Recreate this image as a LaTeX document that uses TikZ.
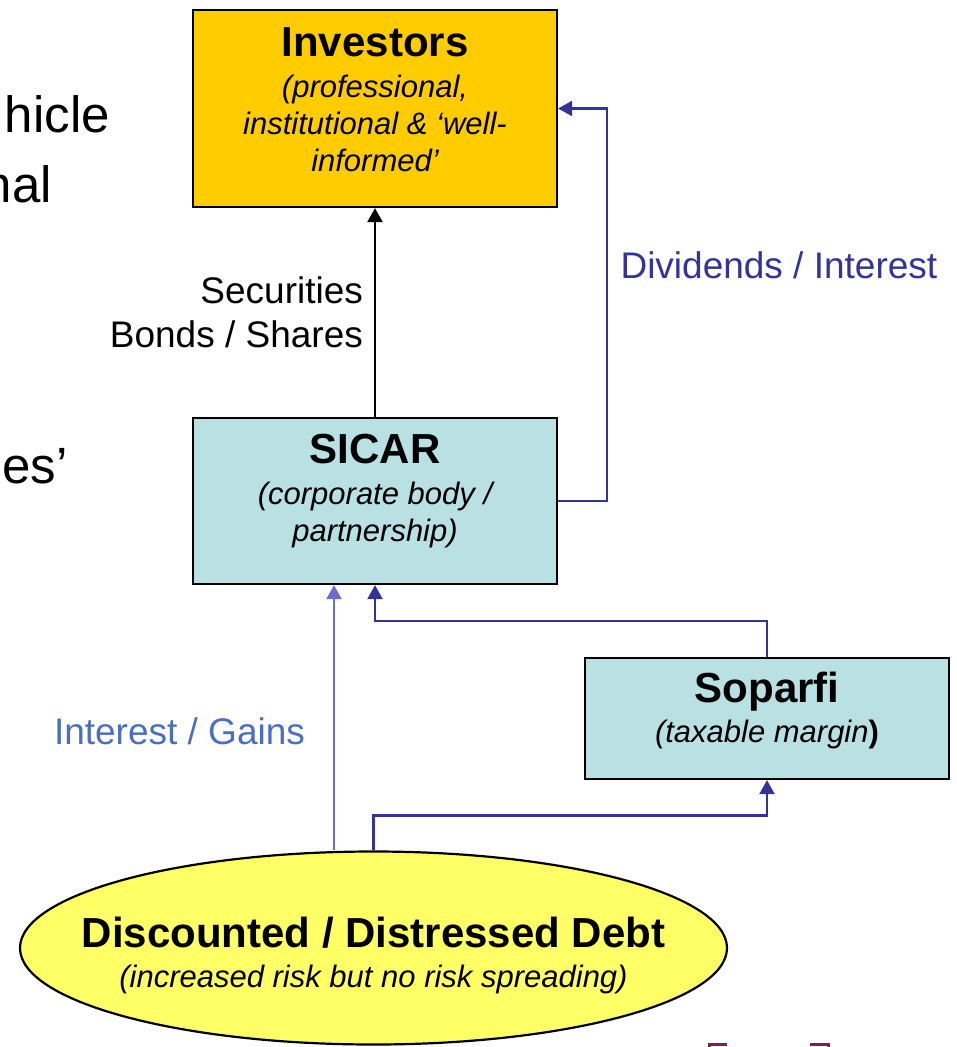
\documentclass[tikz,border=0pt]{standalone}
\usepackage{fontspec}
\setmainfont{Liberation Sans}
\usetikzlibrary{positioning,shapes.geometric,arrows.meta}

\definecolor{invgold}{HTML}{FFCC00}
\definecolor{boxcyan}{HTML}{B9E0E2}
\definecolor{debtyellow}{HTML}{FFFF66}
\definecolor{flowblue}{HTML}{333399}
\definecolor{gainblue}{HTML}{6B6BD0}
\definecolor{gaintext}{HTML}{4A6FC0}
\definecolor{bracketred}{HTML}{7F1F4F}

\newcommand{\hd}[1]{{\fontsize{42}{46}\selectfont\bfseries #1}}
\newcommand{\sbt}[1]{{\itshape #1}}

\tikzset{
  box/.style={draw=black, line width=2.2pt, minimum width=364pt},
  boxtext/.style={align=center, font=\fontsize{31}{37}\selectfont},
  flow/.style={line width=2.2pt, -{Triangle[length=14pt,width=15pt]}},
  lbl/.style={font=\fontsize{37}{44}\selectfont}
}

\begin{document}
\begin{tikzpicture}[x=1pt,y=-1pt]
\useasboundingbox (0,0) rectangle (957,1047);
\clip (0,0) rectangle (957,1047);

% cut-off slide text on the left
\node[anchor=base east, inner sep=0pt, font=\fontsize{51}{60}\selectfont] (frag1) at (110,132) {hicle};
\node[anchor=base east, inner sep=0pt, font=\fontsize{51}{60}\selectfont] (frag2) at (52,202) {nal};
\node[anchor=base east, inner sep=0pt, font=\fontsize{51}{60}\selectfont] (frag3) at (68,483) {es’};

% boxes
\node[box, fill=invgold, minimum height=197pt] (inv) at (375,108.5) {};
\node[boxtext] (invtxt) at ([yshift=9pt]inv.center)
  {\hd{Investors}\\[4pt] \sbt{(professional,}\\ \sbt{institutional \& ‘well-}\\ \sbt{informed’}};

\node[box, fill=boxcyan, minimum height=166pt] (sicar) at (375,501) {};
\node[boxtext] (sicartxt) at ([yshift=10pt]sicar.center)
  {\hd{SICAR}\\[4pt] \sbt{(corporate body /}\\ \sbt{partnership)}};

\node[box, fill=boxcyan, minimum height=121pt] (sop) at (767,718.5) {};
\node[boxtext] (soptxt) at ([yshift=8pt]sop.center)
  {\hd{Soparfi}\\[3pt] \sbt{(taxable margin}\textbf{)}};

\node[ellipse, draw=black, line width=2.2pt, fill=debtyellow,
      minimum width=707pt, minimum height=193pt, inner sep=0pt] (debt) at (373.5,948) {};
\node[boxtext] (debttxt) at ([yshift=-7pt]debt.center)
  {\hd{Discounted / Distressed Debt}\\[3pt] \sbt{(increased risk but no risk spreading)}};

% connectors
\draw[flow, black] (sicar.north) -- node[midway, left, align=right, lbl, inner sep=11pt, black] {Securities\\Bonds / Shares} (inv.south);

\draw[flow, flowblue] (sicar.east) -- ++(49,0) |- (inv.east);
\node[lbl, text=flowblue, anchor=west] (divlbl) at (617,265) {Dividends / Interest};

\draw[flow, gainblue] ([xshift=-39.5pt]debt.north) -- node[pos=0.45, left, lbl, inner sep=0pt, xshift=-28pt, text=gaintext] {Interest / Gains} ([xshift=-41pt]sicar.south);

\draw[flow, flowblue] (sop.north) -- ++(0,-36) -| (sicar.south);
\draw[flow, flowblue] (debt.north) -- ++(0,-35) -| (sop.south);

% red bracket tops at the bottom edge
\draw[bracketred, line width=3pt] (709,1050) -- (709,1044.5) -- (727,1044.5);
\draw[bracketred, line width=3pt] (810,1044.5) -- (828,1044.5) -- (828,1050);
\end{tikzpicture}
\end{document}
